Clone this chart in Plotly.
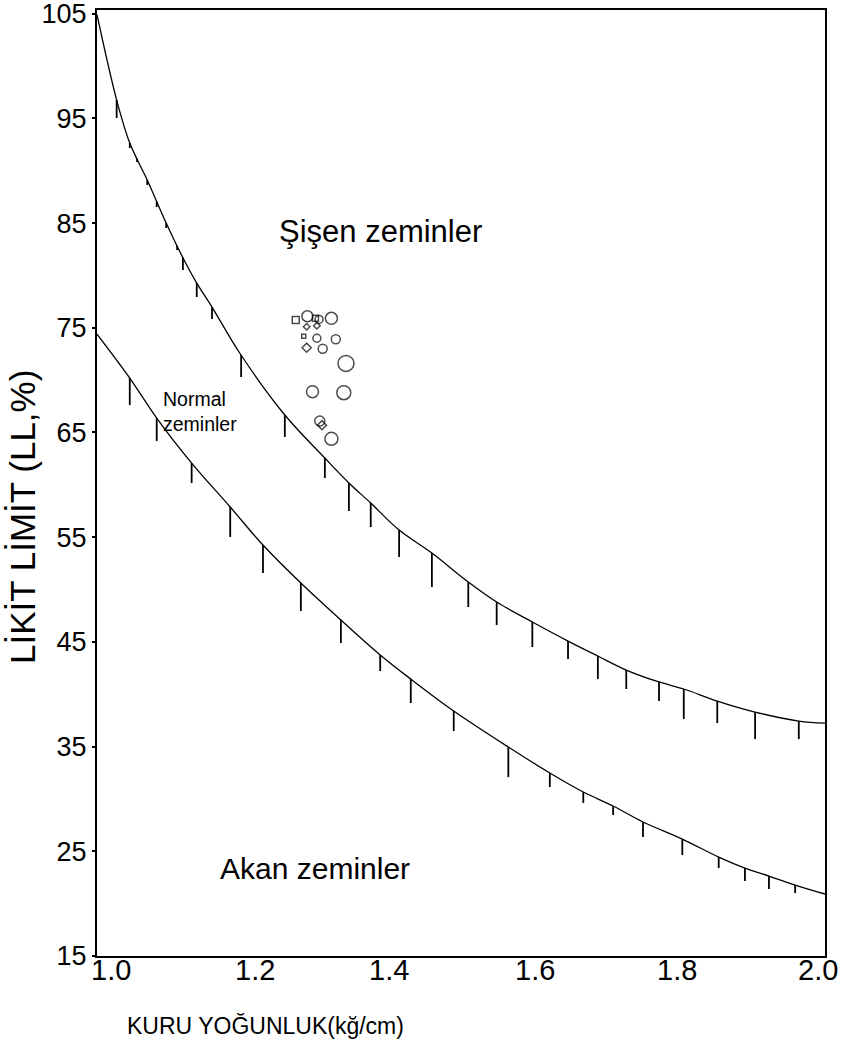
import numpy as np
import plotly.graph_objects as go

# ---- Data ----
# Upper boundary curve (Şişen / Normal)
upper_x = [1.000, 1.027, 1.045, 1.069, 1.095, 1.121, 1.137, 1.158, 1.196, 1.258,
           1.313, 1.346, 1.376, 1.415, 1.460, 1.510, 1.549, 1.598, 1.647, 1.688, 1.727,
           1.772, 1.806, 1.852, 1.904, 1.964, 2.000]
upper_y = [104.9, 96.75, 92.65, 89.11, 85.01, 81.28, 79.27, 76.98, 72.59, 66.67,
           62.56, 60.18, 58.26, 55.68, 53.49, 50.72, 48.81, 46.90, 45.08, 43.65, 42.31,
           41.17, 40.50, 39.35, 38.30, 37.44, 37.25]

# Lower boundary curve (Normal / Akan)
lower_x = [1.000, 1.045, 1.082, 1.130, 1.183, 1.228, 1.280, 1.335, 1.389, 1.431, 1.490,
           1.565, 1.622, 1.668, 1.709, 1.750, 1.804, 1.854, 1.890, 1.923, 1.959, 2.000]
lower_y = [74.40, 70.20, 66.38, 62.08, 57.88, 54.25, 50.62, 47.09, 43.75, 41.45, 38.40,
           34.96, 32.48, 30.66, 29.33, 27.80, 26.17, 24.45, 23.40, 22.64, 21.78, 20.92]

# Hatch marks hanging below the curves: x position and lower end (LL, %)
upper_hatch_x = [1.027, 1.045, 1.055, 1.069, 1.082, 1.095, 1.110, 1.118, 1.137, 1.158,
                 1.198, 1.258, 1.313, 1.346, 1.376, 1.415, 1.460, 1.510, 1.549, 1.598,
                 1.647, 1.688, 1.727, 1.772, 1.806, 1.852, 1.904, 1.964]
upper_hatch_bottom = [95.03, 92.17, 90.83, 88.64, 86.53, 84.53, 82.43, 80.52, 77.94, 75.84,
                      70.30, 64.57, 60.65, 57.50, 55.97, 53.11, 50.24, 48.33, 46.61, 44.51,
                      43.36, 41.45, 40.50, 39.35, 37.63, 37.25, 35.72, 35.72]
lower_hatch_x = [1.045, 1.082, 1.130, 1.183, 1.228, 1.280, 1.335, 1.389, 1.431, 1.490,
                 1.565, 1.622, 1.668, 1.709, 1.750, 1.804, 1.854, 1.890, 1.923, 1.959]
lower_hatch_bottom = [67.62, 64.19, 60.17, 55.02, 51.58, 47.95, 44.89, 42.22, 39.16, 36.49,
                      32.09, 31.14, 29.61, 28.46, 26.37, 24.64, 23.40, 22.16, 21.40, 21.01]

# Sample points (dry density, liquid limit, marker symbol, marker size)
pt_x = [1.273, 1.289, 1.300, 1.305, 1.322, 1.288, 1.302, 1.284, 1.302, 1.328, 1.288,
        1.310, 1.342, 1.296, 1.339, 1.306, 1.309, 1.322]
pt_y = [75.74, 76.10, 75.90, 75.80, 75.90, 75.10, 75.20, 74.20, 74.00, 73.90, 73.10,
        73.00, 71.60, 68.90, 68.80, 66.10, 65.70, 64.40]
pt_sym = ["square", "circle", "square", "circle", "circle", "diamond", "diamond", "square",
          "circle", "circle", "diamond", "circle", "circle", "circle", "circle", "circle",
          "diamond", "circle"]
pt_size = [7, 11, 6, 8, 12, 5, 5, 4, 8, 9, 7, 9, 16, 12, 14, 10, 7, 13]

x_ticks = [1.0, 1.2, 1.4, 1.6, 1.8, 2.0]
x_tick_labels = ["1.0", "1.2", "1.4", "1.6", "1.8", "2.0"]
y_ticks = [15, 25, 35, 45, 55, 65, 75, 85, 95, 105]

FONT = "Arial, Liberation Sans, sans-serif"

# layout geometry (pixels)
W, H = 845, 1050
ML, MR, MT, MB = 97, 20, 10, 94
PW, PH = W - ML - MR, H - MT - MB


def px_x(px):
    return (px - ML) / PW


def px_y(py):
    return 1 - (py - MT) / PH


def hatch_segments(hx, hb, cx, cy):
    xs, ys = [], []
    tops = np.interp(hx, cx, cy)
    for x, t, b in zip(hx, tops, hb):
        xs += [x, x, None]
        ys += [t, b, None]
    return xs, ys


fig = go.Figure()

for cx, cy, hx, hb in [(upper_x, upper_y, upper_hatch_x, upper_hatch_bottom),
                       (lower_x, lower_y, lower_hatch_x, lower_hatch_bottom)]:
    fig.add_trace(go.Scatter(x=cx, y=cy, mode="lines", line=dict(color="black", width=1.3),
                             line_shape="spline", showlegend=False, hoverinfo="skip"))
    sx, sy = hatch_segments(hx, hb, cx, cy)
    fig.add_trace(go.Scatter(x=sx, y=sy, mode="lines", line=dict(color="black", width=1.8),
                             showlegend=False, hoverinfo="skip"))

fig.add_trace(go.Scatter(
    x=pt_x, y=pt_y, mode="markers", showlegend=False,
    marker=dict(symbol=[s + "-open" for s in pt_sym], size=pt_size, color="black",
                line=dict(color="black", width=1.5)),
))

fig.add_annotation(x=1.389, y=84.15, text="Şişen zeminler", showarrow=False,
                   font=dict(family=FONT, size=31, color="black"))
fig.add_annotation(x=1.299, y=23.4, text="Akan zeminler", showarrow=False,
                   font=dict(family=FONT, size=30, color="black"))
fig.add_annotation(x=1.088, y=67.05, text="Normal<br>zeminler", showarrow=False,
                   xanchor="left", align="left",
                   font=dict(family=FONT, size=19.5, color="black"))

# x tick labels (drawn as text so the end labels sit inside like the reference)
x_label_shift = [14, 12, 1, 1, -2, -7]
for v, lab, sh in zip(x_ticks, x_tick_labels, x_label_shift):
    fig.add_annotation(x=v, xref="x", yref="paper", y=px_y(970), text=lab,
                       showarrow=False, xanchor="center", yanchor="middle", xshift=sh,
                       font=dict(family=FONT, size=29, color="black"))

# Axis titles as annotations
fig.add_annotation(xref="paper", yref="paper", x=px_x(22), y=px_y(517),
                   xanchor="center", yanchor="middle",
                   text="LİKİT LİMİT (LL,%)", textangle=-90, showarrow=False,
                   font=dict(family=FONT, size=35, color="black"))
fig.add_annotation(xref="paper", yref="paper", x=px_x(265), y=px_y(1026),
                   xanchor="center", yanchor="middle",
                   text="KURU YOĞUNLUK(kğ/cm)", showarrow=False,
                   font=dict(family=FONT, size=23, color="black"))

fig.update_layout(
    width=W, height=H,
    margin=dict(l=ML, r=MR, t=MT, b=MB, autoexpand=False),
    paper_bgcolor="white", plot_bgcolor="white",
    font=dict(family=FONT, color="black"),
)
fig.update_xaxes(
    range=[1.0, 2.0], tickvals=x_ticks, showticklabels=False, automargin=False,
    showgrid=False, zeroline=False, showline=True, linecolor="black", linewidth=2,
    mirror=True, ticks="",
)
fig.update_yaxes(
    range=[15, 105.35], tickvals=y_ticks, ticktext=[str(v) for v in y_ticks],
    automargin=False, ticklabeloverflow="allow",
    showgrid=False, zeroline=False, showline=True, linecolor="black", linewidth=2,
    mirror=True, ticks="outside", ticklen=3, tickcolor="black", tickwidth=1.5,
    tickfont=dict(family=FONT, size=27, color="black"), ticklabelstandoff=0,
)

fig.write_html("out.html")
